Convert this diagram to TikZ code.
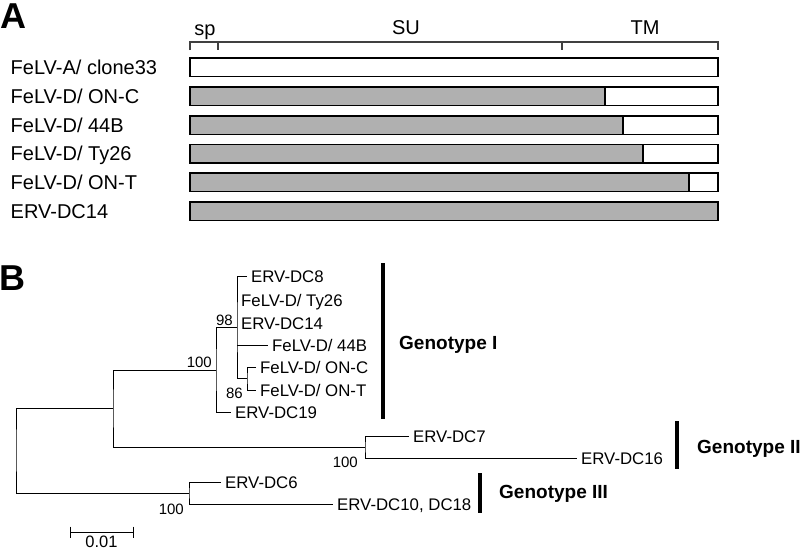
\documentclass[tikz,border=0pt]{standalone}
\usepackage{fontspec}
\setmainfont{Liberation Sans}
\begin{document}
\begin{tikzpicture}[
    x=1pt, y=-1pt,
    panel/.style={font=\fontsize{36}{36}\selectfont\bfseries, inner sep=0pt, anchor=base west},
    strain/.style={font=\fontsize{20}{20}\selectfont, anchor=west, inner sep=0pt, text height=14.3pt, text depth=0pt},
    region/.style={font=\fontsize{20}{20}\selectfont, anchor=base, inner sep=0pt},
    bracket/.style={draw=black!75, line width=1.1pt},
    envbar/.style={draw=black, line width=1.4pt},
    grayfill/.style={fill=black!31},
    branch/.style={line width=0.9pt},
    leaf/.style={font=\fontsize{16.8}{17}\selectfont, anchor=west, inner sep=4pt, text height=12pt, text depth=0pt},
    boot/.style={font=\fontsize{15}{15}\selectfont, inner sep=1pt},
    clade/.style={line width=4pt},
    genotype/.style={font=\fontsize{19}{19}\selectfont\bfseries, anchor=west, inner sep=0pt, text height=13.6pt, text depth=0pt}
]
\useasboundingbox (0,0) rectangle (800,549);

% -------------------------
% Panel A: env regions
% -------------------------
    \node[panel] (panelA) at (0,28) {A};

    \node[region] (sp) at (205,35.5) {sp};
    \node[region] (su) at (406,34) {SU};
    \node[region] (tm) at (645,34) {TM};

    % bracket over the bars
    \draw[bracket] (190,50) -- (190,42) -- (718,42) -- (718,50);
    \draw[bracket] (218,42) -- (218,50);
    \draw[bracket] (562,42) -- (562,50);

    % strain names
    \node[strain] (strA)    at (10.5,67)  {FeLV-A/ clone33};
    \node[strain] (strOnC)  at (10.5,96)  {FeLV-D/ ON-C};
    \node[strain] (str44B)  at (10.5,125) {FeLV-D/ 44B};
    \node[strain] (strTy26) at (10.5,153.5) {FeLV-D/ Ty26};
    \node[strain] (strOnT)  at (10.5,182) {FeLV-D/ ON-T};
    \node[strain] (strDC14) at (10.5,211) {ERV-DC14};

    % bars (gray = ERV-DC14 derived part)
    \draw[envbar, fill=white] (190,58) rectangle (718,76.5);

    \fill[grayfill] (190,87) rectangle (605,105.5);
    \draw[envbar] (190,87) rectangle (718,105.5);
    \draw[envbar] (605,87) -- (605,105.5);

    \fill[grayfill] (190,116) rectangle (623,134.5);
    \draw[envbar] (190,116) rectangle (718,134.5);
    \draw[envbar] (623,116) -- (623,134.5);

    \fill[grayfill] (190,144.5) rectangle (643,163);
    \draw[envbar] (190,144.5) rectangle (718,163);
    \draw[envbar] (643,144.5) -- (643,163);

    \fill[grayfill] (190,173) rectangle (689,191.5);
    \draw[envbar] (190,173) rectangle (718,191.5);
    \draw[envbar] (689,173) -- (689,191.5);

    \draw[envbar, grayfill] (190,202) rectangle (718,220.5);

% -------------------------
% Panel B: tree
% -------------------------
    \node[panel] (panelB) at (-1,290) {B};

    % internal nodes
    \coordinate (root) at (16,450);
    \coordinate (nA) at (113,408);
    \coordinate (nB) at (189,493);
    \coordinate (nC) at (216,370);
    \coordinate (nD) at (365,447);
    \coordinate (nE) at (237,327);
    \coordinate (nF) at (247,378);

    % branch tips
    \coordinate (tDC8) at (247,276);
    \coordinate (tTy26) at (237,300);
    \coordinate (tDC14) at (237,323);
    \coordinate (t44B) at (268,345);
    \coordinate (tOnC) at (256,367);
    \coordinate (tOnT) at (256,390);
    \coordinate (tDC19) at (231,412);
    \coordinate (tDC7) at (409,436);
    \coordinate (tDC16) at (577,458);
    \coordinate (tDC6) at (221,482);
    \coordinate (tDC10) at (333,504);

    % leaf names
    \node[leaf] (DC8)  at (tDC8)  {ERV-DC8};
    \node[leaf] (Ty26) at (tTy26) {FeLV-D/ Ty26};
    \node[leaf] (DC14) at (tDC14) {ERV-DC14};
    \node[leaf] (b44B) at (t44B)  {FeLV-D/ 44B};
    \node[leaf] (OnC)  at (tOnC)  {FeLV-D/ ON-C};
    \node[leaf] (OnT)  at (tOnT)  {FeLV-D/ ON-T};
    \node[leaf] (DC19) at (tDC19) {ERV-DC19};
    \node[leaf] (DC7)  at (tDC7)  {ERV-DC7};
    \node[leaf] (DC16) at (tDC16) {ERV-DC16};
    \node[leaf] (DC6)  at (tDC6)  {ERV-DC6};
    \node[leaf] (DC10) at (tDC10) {ERV-DC10, DC18};

    % branches
    \draw[branch] (nA) -| (root) |- (nB);
    \draw[branch] (nC) -| (nA) |- (nD);
    \draw[branch] (nE) -| (nC) |- (tDC19);
    \draw[branch] (tDC8) -| (nE) |- (nF);
    \draw[branch] (nE |- t44B) -- (t44B);
    \draw[branch] (tOnC) -| (nF) |- (tOnT);
    \draw[branch] (tDC7) -| (nD) |- (tDC16);
    \draw[branch] (tDC6) -| (nB) |- (tDC10);

    % bootstrap values
    \node[boot, anchor=south east, xshift=-3pt] (bsE) at (nE) {98};
    \node[boot, anchor=south east, xshift=-3pt, yshift=1pt] (bsC) at (nC) {100};
    \node[boot, anchor=east, xshift=-3pt, yshift=-3pt] (bsF) at (nF |- tOnT) {86};
    \node[boot, anchor=north east, xshift=-6pt, yshift=2pt] (bsD) at (nD |- tDC16) {100};
    \node[boot, anchor=north east, xshift=-4pt, yshift=1pt] (bsB) at (nB |- tDC10) {100};

    % genotype groups
    \draw[clade] (383,263) -- (383,419);
    \node[genotype] (gI) at (399,343) {Genotype I};
    \draw[clade] (677,421) -- (677,469);
    \node[genotype] (gII) at (697,447) {Genotype II};
    \draw[clade] (480,473) -- (480,513);
    \node[genotype] (gIII) at (499,492) {Genotype III};

    % scale bar
    \coordinate (sbL) at (70,532);
    \coordinate (sbR) at (133,532);
    \draw[branch] (sbL) -- (sbR);
    \draw[branch] ([yshift=5.5pt]sbL) -- ([yshift=-5.5pt]sbL);
    \draw[branch] ([yshift=5.5pt]sbR) -- ([yshift=-5.5pt]sbR);
    \node[boot, font=\fontsize{16.5}{17}\selectfont, anchor=base] (sbText) at (101.5,547) {0.01};
\end{tikzpicture}
\end{document}
